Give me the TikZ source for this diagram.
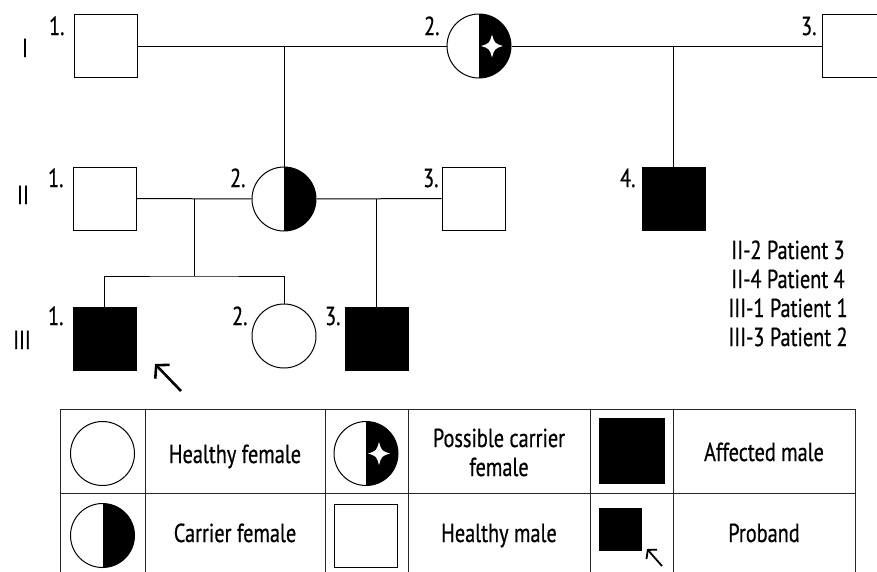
\documentclass[tikz,border=0pt]{standalone}
\usepackage{fontspec}
\setmainfont[FakeStretch=0.78, FakeBold=0.6]{PT Sans}
\usetikzlibrary{arrows.meta}
\begin{document}
\begin{tikzpicture}[x=1pt,y=-1pt,
  font=\fontsize{26}{29}\selectfont,
  every path/.style={line width=1pt},
  male/.style={draw, rectangle, line width=1pt, minimum size=63pt, inner sep=0pt, fill=white},
  affm/.style={male, fill=black},
  female/.style={draw, circle, line width=1pt, minimum size=64pt, inner sep=0pt, fill=white},
  carrier/.style={female, path picture={\fill[black] (path picture bounding box.north) rectangle (path picture bounding box.south east);}},
  fourstar/.pic={\fill[white]
       (0,-11.5) .. controls (2.6,-2.6) .. (11,0) .. controls (2.6,2.6) .. (0,11.5)
       .. controls (-2.6,2.6) .. (-11,0) .. controls (-2.6,-2.6) .. (0,-11.5) -- cycle;},
  num/.style={anchor=base east, inner sep=0pt},
  gen/.style={anchor=base, inner sep=0pt},
  txt/.style={anchor=base, inner sep=0pt},
  proarrow/.style={line width=2.6pt, -{Straight Barb[length=9pt, width=20pt]}},
  smallarrow/.style={line width=1.8pt, -{Straight Barb[length=6pt, width=14pt]}},
  grid/.style={line width=1pt, draw=black!85}
]
\useasboundingbox (0,0) rectangle (877,571);

% Generation I
\node[male] (I1) at (105.5,46) {};
\node[carrier] (I2) at (479,46) {};
\pic at ([xshift=13pt]I2.center) {fourstar};
\node[male] (I3) at (853.5,46) {};
% Generation II
\node[male] (II1) at (104.5,198.5) {};
\node[carrier] (II2) at (284,199) {};
\node[male] (II3) at (473.5,198.5) {};
\node[affm] (II4) at (673.5,199) {};
% Generation III
\node[affm] (III1) at (104.5,339) {};
\node[female] (III2) at (284,336) {};
\node[affm] (III3) at (376.5,339) {};

% connectors
\draw (I1) -- (I2);
\draw (I2) -- (I3);
\draw (II2.north) -- (II2.north |- I1.east);
\draw (II4.north) -- (II4.north |- I3.west);
\draw (II1) -- (II2);
\draw (II2) -- (II3);
\coordinate (s1) at (194,199);
\coordinate (s1b) at (194,276);
\draw (s1) -- (s1b);
\draw (III1.north) |- (s1b) -| (III2.north);
\draw (III3.north) -- (III3.north |- II2.east);

% numbers
\node[num] (nI1) at (65,35) {1.};
\node[num] (nI2) at (440,35) {2.};
\node[num] (nI3) at (817,35) {3.};
\node[num] (nII1) at (64,187) {1.};
\node[num] (nII2) at (246,187) {2.};
\node[num] (nII3) at (439,187) {3.};
\node[num] (nII4) at (636,187) {4.};
\node[num] (nIII1) at (64,325) {1.};
\node[num] (nIII2) at (248,325) {2.};
\node[num] (nIII3) at (341,325) {3.};

% generation labels
\node[gen] (gI) at (25,57) {I};
\node[gen] (gII) at (23,204) {II};
\node[gen] (gIII) at (22,349) {III};

% proband arrow
\coordinate (pa1) at (181,391);
\coordinate (pa2) at (155,364);
\draw[proarrow] (pa1) -- (pa2);

% notes
\node[txt] (t1) at (788,259) {II-2 Patient 3};
\node[txt] (t2) at (788,288) {II-4 Patient 4};
\node[txt] (t3) at (788,317) {III-1 Patient 1};
\node[txt] (t4) at (788,346) {III-3 Patient 2};

% legend table
\draw[grid] (60,409) -- (855,409);
\draw[grid] (60,493) -- (855,493);
\foreach \x in {60,145,325,408,590,673,855} {\draw[grid] (\x,409) -- (\x,575);}

\node[female] (L1) at (102.5,453.5) {};
\node[txt] (L1t) at (235,463) {Healthy female};
\node[carrier] (L2) at (366,453.5) {};
\pic at ([xshift=13pt]L2.center) {fourstar};
\node[txt] (L2t) at (499,447) {Possible carrier};
\node[txt] (L2u) at (499,476) {female};
\node[affm, minimum size=65pt] (L3) at (631.5,451) {};
\node[txt] (L3t) at (764,461) {Affected male};

\node[carrier] (L4) at (102.5,535.5) {};
\node[txt] (L4t) at (235,542) {Carrier female};
\node[male] (L5) at (366,535.5) {};
\node[txt] (L5t) at (499,542) {Healthy male};
\node[affm, minimum size=42pt] (L6) at (620,529) {};
\coordinate (la1) at (662,566);
\coordinate (la2) at (647,549);
\draw[smallarrow] (la1) -- (la2);
\node[txt] (L6t) at (764,542) {Proband};
\end{tikzpicture}
\end{document}
